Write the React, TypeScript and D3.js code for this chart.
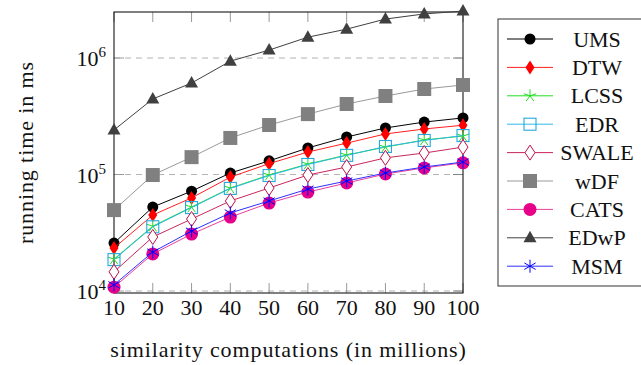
import React from "react";
import * as d3 from "d3";

const xValues = [10, 20, 30, 40, 50, 60, 70, 80, 90, 100];
const UMS = [2.58e4, 5.26e4, 7.2e4, 1.03e5, 1.31e5, 1.69e5, 2.1e5, 2.51e5, 2.82e5, 3.06e5];
const DTW = [2.34e4, 4.49e4, 6.3e4, 9.5e4, 1.24e5, 1.56e5, 1.86e5, 2.23e5, 2.46e5, 2.65e5];
const LCSS = [1.88e4, 3.6e4, 5.26e4, 7.65e4, 9.9e4, 1.23e5, 1.47e5, 1.72e5, 1.98e5, 2.14e5];
const EDR = [1.86e4, 3.56e4, 5.2e4, 7.6e4, 9.8e4, 1.22e5, 1.46e5, 1.74e5, 1.96e5, 2.16e5];
const SWALE = [1.46e4, 2.91e4, 4.15e4, 5.93e4, 7.66e4, 9.9e4, 1.16e5, 1.39e5, 1.53e5, 1.72e5];
const wDF = [4.95e4, 9.9e4, 1.41e5, 2.06e5, 2.66e5, 3.3e5, 4.03e5, 4.72e5, 5.42e5, 5.87e5];
const CATS = [1.08e4, 2.08e4, 3.08e4, 4.31e4, 5.69e4, 7.07e4, 8.46e4, 1.01e5, 1.14e5, 1.26e5];
const EDwP = [2.41e5, 4.45e5, 6.1e5, 9.4e5, 1.17e6, 1.51e6, 1.77e6, 2.16e6, 2.39e6, 2.53e6];
const MSM = [1.13e4, 2.16e4, 3.27e4, 4.68e4, 5.93e4, 7.5e4, 8.8e4, 1.03e5, 1.16e5, 1.28e5];

const yTickExponents = [4, 5, 6];
const xLabel = "similarity computations (in millions)";
const yLabel = "running time in ms";

type MarkerKind =
  | "circle"
  | "diamondFilled"
  | "star"
  | "squareOpen"
  | "diamondOpen"
  | "squareFilled"
  | "circleBig"
  | "triangle"
  | "asterisk";

const seriesDefs: { name: string; values: number[]; line: string; mark: string; kind: MarkerKind }[] = [
  { name: "UMS", values: UMS, line: "#000000", mark: "#000000", kind: "circle" },
  { name: "DTW", values: DTW, line: "#ff2020", mark: "#ff0000", kind: "diamondFilled" },
  { name: "LCSS", values: LCSS, line: "#22e022", mark: "#22dd22", kind: "star" },
  { name: "EDR", values: EDR, line: "#30b8ec", mark: "#25a8e0", kind: "squareOpen" },
  { name: "SWALE", values: SWALE, line: "#c8285a", mark: "#c0104a", kind: "diamondOpen" },
  { name: "wDF", values: wDF, line: "#999999", mark: "#808080", kind: "squareFilled" },
  { name: "CATS", values: CATS, line: "#e8409c", mark: "#e6008a", kind: "circleBig" },
  { name: "EDwP", values: EDwP, line: "#404040", mark: "#404040", kind: "triangle" },
  { name: "MSM", values: MSM, line: "#3030ff", mark: "#0000ff", kind: "asterisk" },
];

const FONT = "'Liberation Serif', 'Times New Roman', serif";

function Marker({ kind, cx, cy, color }: { kind: MarkerKind; cx: number; cy: number; color: string }) {
  switch (kind) {
    case "circle":
      return <circle cx={cx} cy={cy} r={5.5} fill={color} />;
    case "circleBig":
      return <circle cx={cx} cy={cy} r={6.5} fill={color} />;
    case "diamondFilled":
      return (
        <path
          d={`M${cx},${cy - 7}L${cx + 4.5},${cy}L${cx},${cy + 7}L${cx - 4.5},${cy}Z`}
          fill={color}
        />
      );
    case "diamondOpen":
      return (
        <path
          d={`M${cx},${cy - 7.5}L${cx + 5},${cy}L${cx},${cy + 7.5}L${cx - 5},${cy}Z`}
          fill="white"
          stroke={color}
          strokeWidth={1}
        />
      );
    case "squareOpen":
      return <rect x={cx - 6} y={cy - 6} width={12} height={12} fill="none" stroke={color} strokeWidth={1.1} />;
    case "squareFilled":
      return <rect x={cx - 7} y={cy - 7} width={14} height={14} fill={color} />;
    case "triangle":
      return (
        <path
          d={`M${cx},${cy - 7}L${cx + 6.5},${cy + 4.5}L${cx - 6.5},${cy + 4.5}Z`}
          fill={color}
        />
      );
    case "star": {
      const r = 6.5;
      const segs = d3.range(5).map((i) => {
        const a = -Math.PI / 2 + (i * 2 * Math.PI) / 5;
        return `M${cx},${cy}L${cx + r * Math.cos(a)},${cy + r * Math.sin(a)}`;
      });
      return <path d={segs.join("")} stroke={color} strokeWidth={1} fill="none" />;
    }
    case "asterisk": {
      const r = 6.5;
      const segs = d3.range(3).map((i) => {
        const a = -Math.PI / 2 + (i * Math.PI) / 3;
        return `M${cx - r * Math.cos(a)},${cy - r * Math.sin(a)}L${cx + r * Math.cos(a)},${cy + r * Math.sin(a)}`;
      });
      return <path d={segs.join("")} stroke={color} strokeWidth={1} fill="none" />;
    }
  }
  return null;
}

export default function App() {
  const W = 641;
  const H = 365;
  const left = 114;
  const right = 463;
  const top = 12;
  const bottom = 293;

  const x = d3.scaleLinear().domain([10, 100]).range([left, right]);
  const y = d3.scaleLog().domain([Math.pow(10, 3.983), Math.pow(10, 6.395)]).range([bottom, top]);
  const line = d3
    .line<number>()
    .x((_, i) => x(xValues[i]))
    .y((d) => y(d));

  const tickLen = 10;
  const legendX = 498;
  const legendY = 19;
  const rowY0 = 39;
  const rowStep = 28.4;

  return (
    <svg
      width={W}
      height={H}
      style={{ position: "absolute", left: 0, top: 0, background: "white" }}
      fontFamily={FONT}
    >
      <rect x={0} y={0} width={W} height={H} fill="white" />
      {/* grid */}
      {yTickExponents.map((e) => (
        <line
          key={"g" + e}
          x1={left}
          x2={right}
          y1={y(Math.pow(10, e))}
          y2={y(Math.pow(10, e))}
          stroke="#b3b3b3"
          strokeWidth={1}
          strokeDasharray="6 5"
        />
      ))}
      {/* x ticks */}
      {xValues.map((v) => (
        <g key={"xt" + v}>
          <line x1={x(v)} x2={x(v)} y1={bottom} y2={bottom - tickLen} stroke="#999" strokeWidth={1} />
          <line x1={x(v)} x2={x(v)} y1={top} y2={top + tickLen} stroke="#999" strokeWidth={1} />
          <text x={x(v)} y={315} textAnchor="middle" fontSize={22} fill="#111">
            {v}
          </text>
        </g>
      ))}
      {/* y ticks */}
      {yTickExponents.map((e) => {
        const yy = y(Math.pow(10, e));
        return (
          <g key={"yt" + e}>
            <line x1={left} x2={left + tickLen} y1={yy} y2={yy} stroke="#999" strokeWidth={1} />
            <line x1={right - tickLen} x2={right} y1={yy} y2={yy} stroke="#888" strokeWidth={1} />
            <text x={106} y={yy + 8} textAnchor="end" fontSize={22} fill="#111">
              10
              <tspan fontSize={15} dy={-9}>
                {e}
              </tspan>
            </text>
          </g>
        );
      })}
      {/* frame */}
      <rect x={left} y={top} width={right - left} height={bottom - top} fill="none" stroke="#000" strokeWidth={1} />
      {/* series */}
      {seriesDefs.map((s) => (
        <g key={s.name}>
          <path d={line(s.values) || ""} fill="none" stroke={s.line} strokeWidth={1} />
          {s.values.map((v, i) => (
            <Marker key={i} kind={s.kind} cx={x(xValues[i])} cy={y(v)} color={s.mark} />
          ))}
        </g>
      ))}
      {/* axis labels */}
      <text
        x={(left + right) / 2}
        y={357}
        textAnchor="middle"
        fontSize={22}
        letterSpacing={0.9}
        fill="#111"
      >
        {xLabel}
      </text>
      <text
        transform={`translate(33, ${(top + bottom) / 2}) rotate(-90)`}
        textAnchor="middle"
        fontSize={22}
        letterSpacing={0.9}
        fill="#111"
      >
        {yLabel}
      </text>
      {/* legend */}
      <rect
        x={legendX}
        y={legendY}
        width={W - legendX + 5}
        height={286 - legendY}
        fill="white"
        stroke="#333"
        strokeWidth={1}
      />
      {seriesDefs.map((s, i) => {
        const ry = rowY0 + i * rowStep;
        return (
          <g key={"lg" + s.name}>
            <line x1={507} x2={553} y1={ry} y2={ry} stroke={s.line} strokeWidth={1} />
            <Marker kind={s.kind} cx={530} cy={ry} color={s.mark} />
            <text x={597} y={ry + 7.5} textAnchor="middle" fontSize={22} fill="#111">
              {s.name}
            </text>
          </g>
        );
      })}
    </svg>
  );
}
